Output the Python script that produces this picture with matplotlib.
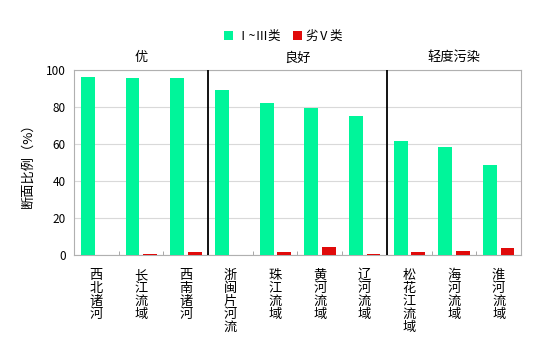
import numpy as np
import matplotlib
matplotlib.use("Agg")
import matplotlib.pyplot as plt

plt.rcParams['font.family'] = ['Noto Sans CJK SC', 'DejaVu Sans']

basins = ["西北诸河", "长江流域", "西南诸河", "浙闽片河流", "珠江流域",
          "黄河流域", "辽河流域", "松花江流域", "海河流域", "淮河流域"]
good = [96.0, 95.5, 95.5, 89.2, 82.3, 79.3, 75.1, 61.8, 58.5, 48.6]
worst = [0.0, 0.3, 1.8, 0.0, 1.3, 4.2, 0.3, 1.5, 2.3, 3.6]
groups = ["优", "良好", "轻度污染"]
group_spans = [(-0.5, 2.5), (2.5, 6.5), (6.5, 9.5)]

green = "#00F59A"
red = "#E00A0A"

fig = plt.figure(figsize=(5.56, 3.55), dpi=100)
ax = fig.add_axes([0.133, 0.282, 0.804, 0.521])

x = np.arange(len(basins))
w = 0.31
b1 = ax.bar(x - 0.19, good, w, color=green, label="Ⅰ~Ⅲ类", zorder=3)
b2 = ax.bar(x + 0.2, worst, w, color=red, label="劣Ⅴ类", zorder=3)

ax.set_xlim(-0.5, 9.5)
ax.set_ylim(0, 100)
ax.set_yticks(range(0, 101, 20))
ax.yaxis.grid(True, color="#d9d9d9", linewidth=0.8, zorder=0)
for s in ax.spines.values():
    s.set_color("#b0b0b0")
ax.tick_params(axis="y", length=0, labelsize=8.5, pad=6)
ax.set_xticks(x)
ax.set_xticklabels(["\n".join(b) for b in basins], fontsize=9.5, linespacing=1.0,
                   va="top")
ax.tick_params(axis="x", length=0, pad=10)
ax.set_xticks(np.arange(0.5, 9.5, 1), minor=True)
ax.tick_params(axis="x", which="minor", direction="in", length=3, color="#999999")

for sep in (2.5, 6.5):
    ax.axvline(sep, color="black", linewidth=1.3, zorder=4)

for name, (a, b) in zip(groups, group_spans):
    ax.text((a + b) / 2, 103, name, ha="center", va="bottom", fontsize=9.5)

ax.set_ylabel("断面比例（%）", fontsize=9.5, labelpad=8)

fig.legend(handles=[b1, b2], loc="center", bbox_to_anchor=(0.51, 0.898),
           ncol=2, frameon=False, fontsize=9, handlelength=0.7, handleheight=0.7,
           handletextpad=0.3, columnspacing=1.0)

fig.savefig("out.png", dpi=100)
